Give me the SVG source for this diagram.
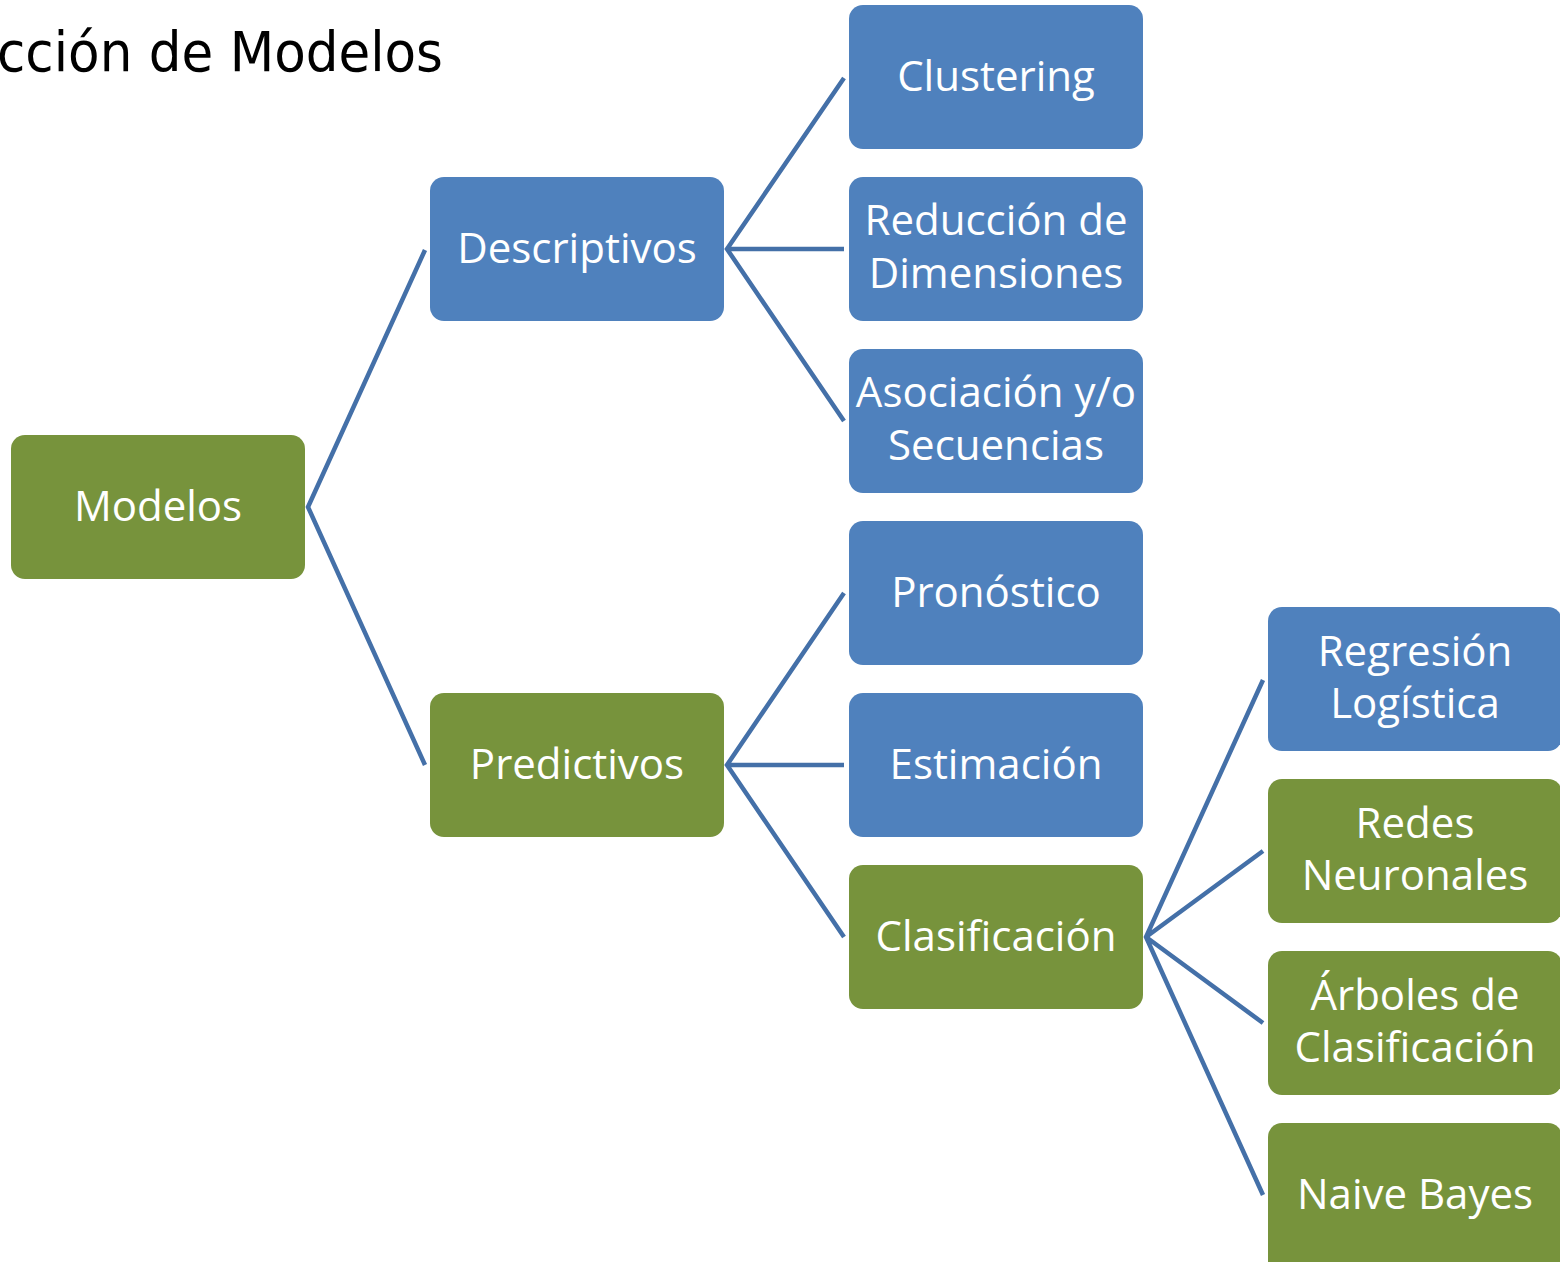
<svg xmlns="http://www.w3.org/2000/svg" width="1560" height="1262" viewBox="0 0 1560 1262">
<style>
.b{fill:#4f81bd}
.g{fill:#77933c}
.t{fill:#ffffff;font-family:"Open Sans","Noto Sans",sans-serif;font-size:42px;text-anchor:middle}
.c{fill:none;stroke:#4470a8;stroke-width:4.5}
.title{fill:#000;font-family:"DejaVu Sans",sans-serif;font-size:56px;text-anchor:end}
</style>
<rect width="1560" height="1262" fill="#ffffff"/>
<text class="title" x="443" y="71" textLength="446" lengthAdjust="spacingAndGlyphs">cción de Modelos</text>
<g id="connectors">
<polyline class="c" points="425,250 308,507 425,765"/>
<path class="c" d="M844,78 L727,249 L844,421 M727,249 H844"/>
<path class="c" d="M844,593 L727,765 L844,937 M727,765 H844"/>
<path class="c" d="M1263,680 L1146,937 L1263,1195 M1146,937 L1263,851 M1146,937 L1263,1023"/>
</g>
<g id="modelos"><rect class="g" x="11" y="435" width="294" height="144" rx="14"/><text class="t" x="158" y="521">Modelos</text></g>
<g id="descriptivos"><rect class="b" x="430" y="177" width="294" height="144" rx="14"/><text class="t" x="577" y="263">Descriptivos</text></g>
<g id="predictivos"><rect class="g" x="430" y="693" width="294" height="144" rx="14"/><text class="t" x="577" y="779">Predictivos</text></g>
<g id="clustering"><rect class="b" x="849" y="5" width="294" height="144" rx="14"/><text class="t" x="996" y="91">Clustering</text></g>
<g id="reduccion"><rect class="b" x="849" y="177" width="294" height="144" rx="14"/><text class="t" x="996" y="235">Reducción de</text><text class="t" x="996" y="288">Dimensiones</text></g>
<g id="asociacion"><rect class="b" x="849" y="349" width="294" height="144" rx="14"/><text class="t" x="996" y="407">Asociación y/o</text><text class="t" x="996" y="460">Secuencias</text></g>
<g id="pronostico"><rect class="b" x="849" y="521" width="294" height="144" rx="14"/><text class="t" x="996" y="607">Pronóstico</text></g>
<g id="estimacion"><rect class="b" x="849" y="693" width="294" height="144" rx="14"/><text class="t" x="996" y="779">Estimación</text></g>
<g id="clasificacion"><rect class="g" x="849" y="865" width="294" height="144" rx="14"/><text class="t" x="996" y="951">Clasificación</text></g>
<g id="regresion"><rect class="b" x="1268" y="607" width="294" height="144" rx="14"/><text class="t" x="1415" y="666">Regresión</text><text class="t" x="1415" y="718">Logística</text></g>
<g id="redes"><rect class="g" x="1268" y="779" width="294" height="144" rx="14"/><text class="t" x="1415" y="838">Redes</text><text class="t" x="1415" y="890">Neuronales</text></g>
<g id="arboles"><rect class="g" x="1268" y="951" width="294" height="144" rx="14"/><text class="t" x="1415" y="1010">Árboles de</text><text class="t" x="1415" y="1062">Clasificación</text></g>
<g id="naive"><rect class="g" x="1268" y="1123" width="294" height="160" rx="14"/><text class="t" x="1415" y="1209">Naive Bayes</text></g>
</svg>
